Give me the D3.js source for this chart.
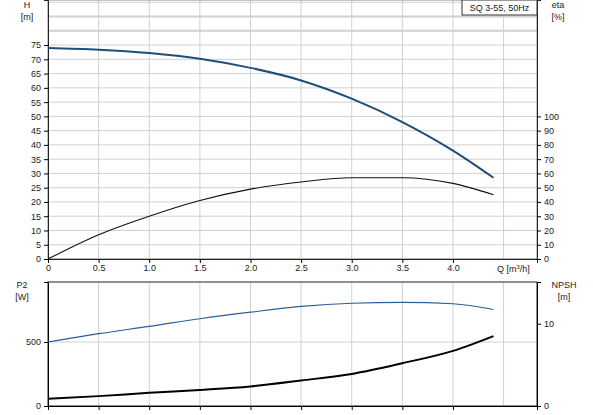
<!DOCTYPE html>
<html><head><meta charset="utf-8">
<script src="https://cdn.jsdelivr.net/npm/d3@7"></script>
<style>body{margin:0;background:#fff}text{font-family:"Liberation Sans",Arial,sans-serif;font-size:9px;fill:#222}</style>
</head><body><svg id="c" width="593" height="415"></svg>
<script>
const qTicks = [0, 0.5, 1.0, 1.5, 2.0, 2.5, 3.0, 3.5, 4.0];
const hTicks = [0, 5, 10, 15, 20, 25, 30, 35, 40, 45, 50, 55, 60, 65, 70, 75];
const etaTicks = [0, 10, 20, 30, 40, 50, 60, 70, 80, 90, 100];
const qPts = [0, 0.5, 1.0, 1.5, 2.0, 2.5, 3.0, 3.5, 4.0, 4.4];
const headVals = [74, 73.4, 72.2, 70.2, 67, 62.6, 56.2, 48, 38, 28.5];
const etaVals = [0, 17, 30, 41, 49, 54, 57, 57, 53, 45];
const p2Vals = [500, 565, 622, 682, 733, 778, 803, 810, 799, 754];
const npshVals = [0.88, 1.2, 1.6, 1.95, 2.38, 3.1, 3.9, 5.2, 6.7, 8.5];

const svg = d3.select('#c');
const x = d3.scaleLinear().domain([0, 4.83]).range([48, 537]);
const yH = d3.scaleLinear().domain([0, 90.8]).range([259, 0]);
const yEta = d3.scaleLinear().domain([0, 181.6]).range([259, 0]);
const yP = d3.scaleLinear().domain([0, 969]).range([406, 282]);
const yN = d3.scaleLinear().domain([0, 15.07]).range([406, 282]);
const grid = '#d0d0d0';

// top panel grid
const topG = svg.append('g');
d3.range(0, 91, 5).forEach(v => topG.append('line').attr('x1', 48).attr('x2', 537)
  .attr('y1', yH(v)).attr('y2', yH(v)).attr('stroke', grid).attr('stroke-width', v === 80 || v === 85 ? 2 : 1));
d3.range(0.5, 4.81, 0.5).forEach(v => topG.append('line').attr('x1', x(v)).attr('x2', x(v))
  .attr('y1', 0).attr('y2', 259).attr('stroke', grid));
topG.append('rect').attr('x', 48).attr('y', 0).attr('width', 489).attr('height', 259)
  .attr('fill', 'none').attr('stroke', '#888');

topG.append('g').attr('transform', 'translate(48,0)')
  .call(d3.axisLeft(yH).tickValues(hTicks).tickSize(4).tickPadding(3));
topG.append('g').attr('transform', 'translate(537,0)')
  .call(d3.axisRight(yEta).tickValues(etaTicks).tickSize(4).tickPadding(3));
topG.append('g').attr('transform', 'translate(0,259)')
  .call(d3.axisBottom(x).tickValues(qTicks).tickSize(4).tickPadding(2)
    .tickFormat(d => d === 0 ? '0' : d3.format('.1f')(d)));
topG.selectAll('.domain').attr('stroke', '#222');

// bottom panel grid
const botG = svg.append('g');
d3.range(0.5, 4.81, 0.5).forEach(v => botG.append('line').attr('x1', x(v)).attr('x2', x(v))
  .attr('y1', 282).attr('y2', 406).attr('stroke', grid));
botG.append('line').attr('x1', 48).attr('x2', 537).attr('y1', yP(500)).attr('y2', yP(500)).attr('stroke', grid);
botG.append('rect').attr('x', 48).attr('y', 282).attr('width', 489).attr('height', 124)
  .attr('fill', 'none').attr('stroke', '#222');
botG.append('g').attr('transform', 'translate(48,0)')
  .call(d3.axisLeft(yP).tickValues([0, 500]).tickSize(4).tickPadding(3));
botG.append('g').attr('transform', 'translate(537,0)')
  .call(d3.axisRight(yN).tickValues([0, 10]).tickSize(4).tickPadding(3));
botG.append('g').attr('transform', 'translate(0,406)')
  .call(d3.axisBottom(x).tickValues(qTicks).tickSize(4).tickFormat(''));

// curves
const line = (ys, vals) => d3.line().curve(d3.curveMonotoneX)
  .x((d, i) => x(qPts[i])).y((d, i) => ys(vals[i]))(vals);
svg.append('path').attr('d', line(yH, headVals)).attr('fill', 'none').attr('stroke', '#1f4e79').attr('stroke-width', 2);
svg.append('path').attr('d', line(yEta, etaVals)).attr('fill', 'none').attr('stroke', '#111').attr('stroke-width', 1.1);
svg.append('path').attr('d', line(yP, p2Vals)).attr('fill', 'none').attr('stroke', '#2a5f9a').attr('stroke-width', 1.2);
svg.append('path').attr('d', line(yN, npshVals)).attr('fill', 'none').attr('stroke', '#000').attr('stroke-width', 2);

// labels
const lab = (t, xx, yy, a) => svg.append('text').attr('x', xx).attr('y', yy).attr('text-anchor', a || 'middle').text(t);
lab('H', 27, 8); lab('[m]', 27, 20);
lab('eta', 558, 8); lab('[%]', 558, 20);
lab('P2', 22, 288); lab('[W]', 22, 300);
lab('NPSH', 564, 288); lab('[m]', 564, 300);
svg.append('text').attr('x', 497).attr('y', 272).attr('text-anchor', 'start').html('Q [m<tspan dy="-3" style="font-size:6px">3</tspan><tspan dy="3">/h]</tspan>');
svg.append('rect').attr('x', 462).attr('y', 0).attr('width', 75).attr('height', 15).attr('fill', '#fff').attr('stroke', '#333');
lab('SQ 3-55, 50Hz', 499.5, 11);
</script></body></html>
